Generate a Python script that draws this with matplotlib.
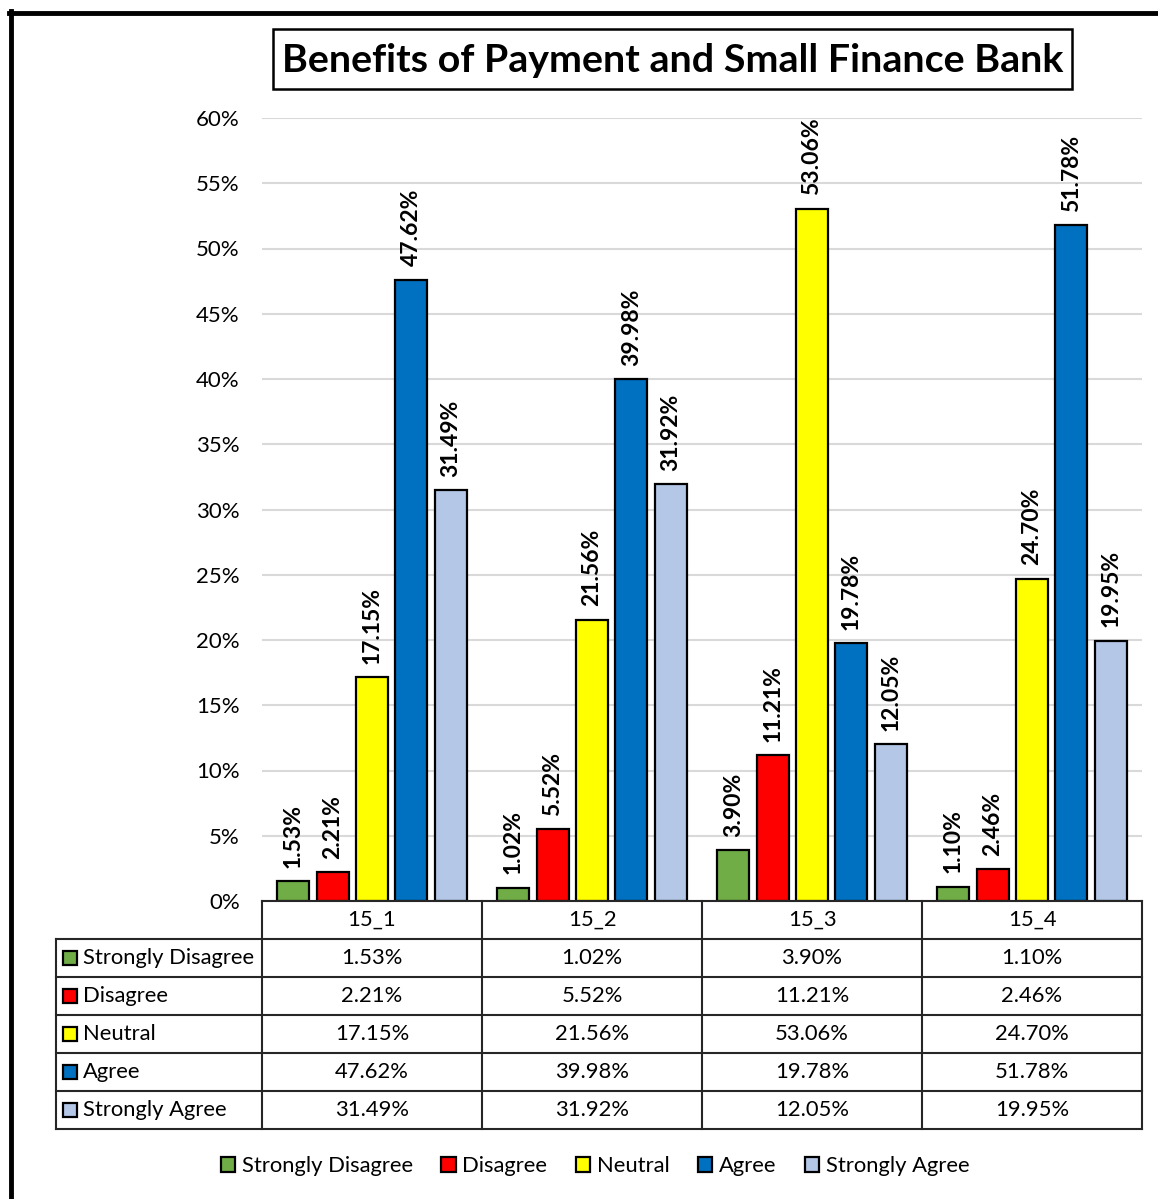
import matplotlib.pyplot as plt
from matplotlib.patches import Patch, Rectangle
from matplotlib.lines import Line2D
from matplotlib.ticker import PercentFormatter, MultipleLocator

plt.rcParams['font.family'] = ['Lato', 'DejaVu Sans']

# données (en %)
questions = ['15_1', '15_2', '15_3', '15_4']
niveaux = ['Strongly Disagree', 'Disagree', 'Neutral', 'Agree', 'Strongly Agree']
strongly_disagree = [1.53, 1.02, 3.90, 1.10]
disagree = [2.21, 5.52, 11.21, 2.46]
neutral = [17.15, 21.56, 53.06, 24.70]
agree = [47.62, 39.98, 19.78, 51.78]
strongly_agree = [31.49, 31.92, 12.05, 19.95]
couleurs = ['#70AD47', '#FF0000', '#FFFF00', '#0070C0', '#B4C7E7']

series = [strongly_disagree, disagree, neutral, agree, strongly_agree]

W, H = 1158, 1199
fig = plt.figure(figsize=(W / 100, H / 100), dpi=100)

# zone du graphique
ax = fig.add_axes([262 / W, 1 - 901 / H, 880 / W, 783 / H])
pas = 0.1786
largeur = 0.145
x = list(range(len(questions)))
for i, (vals, c) in enumerate(zip(series, couleurs)):
    pos = [k + (i - 2) * pas for k in x]
    barres = ax.bar(pos, vals, largeur, color=c, edgecolor='black', linewidth=1.6, zorder=3)
    for b, v in zip(barres, vals):
        ax.annotate(f'{v:.2f}%', (b.get_x() + b.get_width() / 2, v), xytext=(0, 9.5),
                    textcoords='offset points', rotation=90, ha='center', va='bottom',
                    fontweight='bold', fontsize=16.5)

ax.set_xlim(-0.5, 3.5)
ax.set_ylim(0, 60)
ax.yaxis.set_major_locator(MultipleLocator(5))
ax.yaxis.set_major_formatter(PercentFormatter(decimals=0))
ax.tick_params(axis='y', length=0, pad=16, labelsize=16)
ax.set_xticks([])
for s in ['left', 'right', 'top', 'bottom']:
    ax.spines[s].set_visible(False)
ax.grid(axis='y', color='#D9D9D9', linewidth=1.5, zorder=0)

# tableau de données sous le graphique
tab = fig.add_axes([262 / W, 1 - 1129 / H, 880 / W, 228 / H])
tab.set_xlim(-0.5, 3.5)
tab.set_ylim(6, 0)
tab.axis('off')

x_lab = -0.5 - 206 / 220
trait = dict(color='#262626', linewidth=1.5, clip_on=False)
tab.plot([-0.5, 3.5], [0, 0], **trait)
for r in range(1, 7):
    tab.plot([x_lab, 3.5], [r, r], **trait)
for xv in [-0.5, 0.5, 1.5, 2.5, 3.5]:
    tab.plot([xv, xv], [0, 6], **trait)
tab.plot([x_lab, x_lab], [1, 6], **trait)

for k, q in enumerate(questions):
    tab.text(k, 0.5, q, ha='center', va='center', fontsize=15.8)
for r, (nom, vals, c) in enumerate(zip(niveaux, series, couleurs)):
    y = r + 1.5
    tab.plot([-0.5 - 192 / 220], [y], marker='s', markersize=10.5, markerfacecolor=c,
             markeredgecolor='black', markeredgewidth=1.6, clip_on=False)
    tab.text(-0.5 - 179 / 220, y, nom, ha='left', va='center', fontsize=15.8)
    for k, v in enumerate(vals):
        tab.text(k, y, f'{v:.2f}%', ha='center', va='center', fontsize=15.8)

# légende en bas
poignees = [Patch(facecolor=c, edgecolor='black', linewidth=1.6, label=n)
            for n, c in zip(niveaux, couleurs)]
fig.legend(handles=poignees, loc='center', bbox_to_anchor=(595 / W, 1 - 1166 / H), ncol=5,
           frameon=False, fontsize=15.8, handlelength=0.65, handleheight=0.65,
           handletextpad=0.3, columnspacing=1.3)

# titre encadré
fig.patches.append(Rectangle((273 / W, 1 - 89 / H), 799 / W, 60 / H, transform=fig.transFigure,
                             fill=False, edgecolor='black', linewidth=1.8))
fig.text(672.5 / W, 1 - 60 / H, 'Benefits of Payment and Small Finance Bank', ha='center',
         va='center', fontsize=28.4, fontweight='bold')

# bordure épaisse (gauche et haut)
fig.lines.append(Line2D([11 / W, 11 / W], [0, 1 - 11 / H], transform=fig.transFigure,
                        color='black', linewidth=3.5))
fig.lines.append(Line2D([9 / W, 1], [1 - 13 / H, 1 - 13 / H], transform=fig.transFigure,
                        color='black', linewidth=3.5))

fig.savefig('out.png', dpi=100)
